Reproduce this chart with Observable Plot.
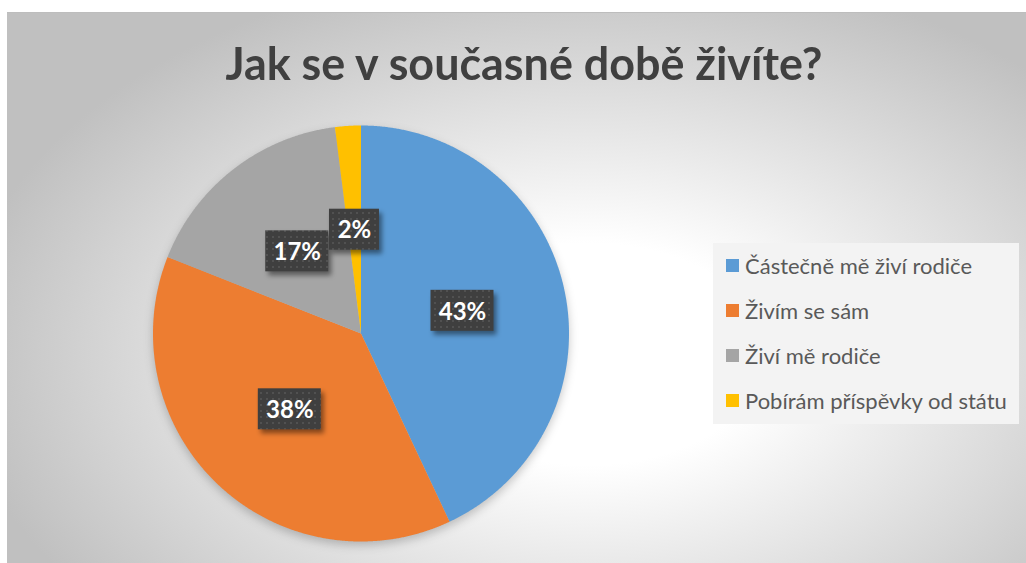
<!DOCTYPE html>
<html><head><meta charset="utf-8">
<script src="https://cdn.jsdelivr.net/npm/d3@7"></script>
<script src="https://cdn.jsdelivr.net/npm/@observablehq/plot@0.6"></script>
<style>
html,body{margin:0;padding:0;background:#fff;width:1026px;height:563px;overflow:hidden;font-family:Lato,"Open Sans",sans-serif;}
#frame{position:absolute;left:7px;top:12px;width:1019px;height:551px;background:radial-gradient(ellipse 62% 72% at 57% 62%, #ffffff 0%, #ffffff 28%, #c0c0c0 100%);border-top:1px solid #bdbdbd;box-sizing:border-box;}
#title{position:absolute;left:0;top:39px;width:1047px;text-align:center;white-space:nowrap;}
#title span{display:inline-block;font-weight:700;font-size:46px;line-height:48px;color:#404040;transform-origin:50% 50%;}
#chart{position:absolute;left:0;top:0;}
#legend{position:absolute;left:713px;top:243px;width:306px;height:181px;background:#f3f3f3;padding-left:13px;box-sizing:border-box;}
#legend .lg-swatch{height:45px;padding:0;margin:0;display:flex;align-items:center;}
#legend .lg-swatch svg{margin-right:6px;}
#legend div, #legend span{font-family:Lato,sans-serif;font-size:22px;color:#595959;}
</style>
</head><body>
<div id="frame"></div>
<div id="title"><span>Jak se v současné době živíte?</span></div>
<div id="chart"></div>
<div id="legend"></div>
<script>
const categories = ["Částečně mě živí rodiče", "Živím se sám", "Živí mě rodiče", "Pobírám příspěvky od státu"];
const values = [43, 38, 17, 2];
const labels = ["43%", "38%", "17%", "2%"];
const colors = ["#5b9bd5", "#ed7d31", "#a5a5a5", "#ffc000"];

const W = 1026, H = 563, cx = 360.5, cy = 333, R = 208;
const arcs = d3.pie().sort(null)(values);
const slices = arcs.flatMap((a, i) => {
  const n = Math.max(4, Math.ceil((a.endAngle - a.startAngle) / 0.005));
  const pts = [{cat: categories[i], u: 0, v: 0}];
  for (let k = 0; k <= n; k++) {
    const t = a.startAngle + (a.endAngle - a.startAngle) * k / n;
    pts.push({cat: categories[i], u: Math.sin(t), v: Math.cos(t)});
  }
  return pts;
});
const lab = arcs.map((a, i) => {
  const m = (a.startAngle + a.endAngle) / 2;
  return {text: labels[i], u: 0.5 * Math.sin(m), v: 0.5 * Math.cos(m), hw: (24 + 13 * labels[i].length) / 2 / R, hh: 20.5 / R};
});

const chart = Plot.plot({
  width: W, height: H, margin: 0,
  x: {domain: [-cx / R, (W - cx) / R], axis: null},
  y: {domain: [(cy - H) / R, cy / R], axis: null},
  color: {domain: categories, range: colors},
  style: {background: "transparent", overflow: "visible"},
  marks: [
    Plot.dot([{u: 0, v: 0}], {x: "u", y: "v", r: R, fill: "#000", fillOpacity: 0.22, dy: 4, ariaDescription: "pieshadow"}),
    Plot.line(slices, {x: "u", y: "v", z: "cat", fill: "cat", stroke: "none", curve: "linear-closed"}),
    Plot.rect(lab, {x1: d => d.u - d.hw + 3 / R, x2: d => d.u + d.hw + 3 / R, y1: d => d.v - d.hh - 4 / R, y2: d => d.v + d.hh - 4 / R, fill: "#000", fillOpacity: 0.45, ariaDescription: "boxshadow"}),
    Plot.rect(lab, {x1: d => d.u - d.hw, x2: d => d.u + d.hw, y1: d => d.v - d.hh, y2: d => d.v + d.hh, fill: "#404040", ariaDescription: "box"}),
    Plot.text(lab, {x: "u", y: "v", text: "text", fill: "#ffffff", fontSize: 24, fontWeight: "bold", fontFamily: "Lato", dy: 1})
  ]
});
document.getElementById("chart").appendChild(chart);

const svg = d3.select(chart);
const defs = svg.insert("defs", ":first-child");
const pat = defs.append("pattern").attr("id", "dots").attr("width", 6).attr("height", 6).attr("patternUnits", "userSpaceOnUse");
pat.append("rect").attr("width", 6).attr("height", 6).attr("fill", "#3f3f3f");
pat.append("circle").attr("cx", 3).attr("cy", 3).attr("r", 1).attr("fill", "#575757");
defs.append("filter").attr("id", "blurBig").attr("x", "-20%").attr("y", "-20%").attr("width", "140%").attr("height", "140%")
  .append("feGaussianBlur").attr("stdDeviation", 5);
defs.append("filter").attr("id", "blurSmall").attr("x", "-30%").attr("y", "-30%").attr("width", "160%").attr("height", "160%")
  .append("feGaussianBlur").attr("stdDeviation", 2.5);
svg.selectAll('g[aria-description="pieshadow"]').attr("filter", "url(#blurBig)");
svg.selectAll('g[aria-description="boxshadow"]').attr("filter", "url(#blurSmall)");
svg.selectAll('g[aria-description="box"] rect').attr("fill", "url(#dots)");

const legend = Plot.legend({
  color: {domain: categories, range: colors, type: "ordinal"},
  swatchSize: 13, columns: 1, className: "lg"
});
document.getElementById("legend").appendChild(legend);

const span = document.querySelector("#title span");
const w = span.getBoundingClientRect().width;
span.style.transform = `scaleX(${597 / w})`;
</script>
</body></html>
